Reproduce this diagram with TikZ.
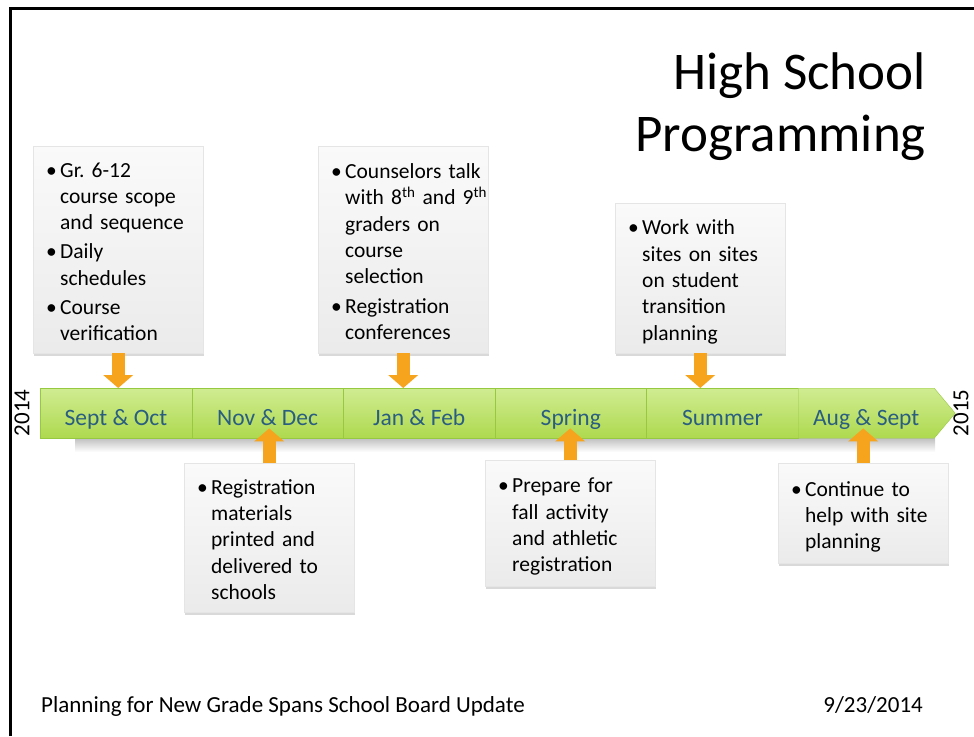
\documentclass[tikz,border=0pt]{standalone}
\usepackage{fontspec}
\setmainfont{Carlito}
\usetikzlibrary{positioning, arrows.meta, shapes.symbols, shadows}
\definecolor{barlight}{RGB}{208,236,146}
\definecolor{bargreen}{RGB}{174,217,78}
\definecolor{barline}{RGB}{150,200,64}
\definecolor{monthblue}{RGB}{42,94,128}
\definecolor{arroworange}{RGB}{246,163,30}
\frenchspacing
\newcommand{\bitem}[1]{\par\noindent\makebox[14pt][l]{\textbullet}\begin{tabular}[t]{@{}l@{}}#1\end{tabular}\par}
\begin{document}
\begin{tikzpicture}[x=1pt,y=-1pt,
    month/.style={anchor=north west,minimum width=151.6pt,minimum height=50pt,inner sep=0pt,
      text height=24pt,text depth=0pt,
      top color=barlight,bottom color=bargreen,draw=barline,text=monthblue,
      font=\fontsize{23.5}{28}\selectfont},
    tbox/.style={anchor=north west,draw=black!10,top color=black!2,bottom color=black!8,
      drop shadow={shadow xshift=1pt,shadow yshift=-2.5pt,opacity=.3},
      text width=144pt,inner xsep=13pt,inner ysep=0pt,align=left,
      font=\fontsize{21.5}{26.3}\selectfont},
    orarrow/.style={draw=arroworange,line width=13pt,
      -{Triangle[width=30pt,length=13pt,line width=0pt,fill=arroworange]}},
    year/.style={rotate=90,inner sep=0pt,font=\fontsize{23}{27}\selectfont}]
  \useasboundingbox (0,0) rectangle (974,736);
  \draw[line width=3pt] (10.5,736) -- (10.5,8) -- (974,8);
  % title and footer
  \node[anchor=north east,align=right,inner sep=0pt,font=\fontsize{53}{62}\selectfont] (title) at (926,52) {High School\\Programming};
  \node[anchor=base west,inner sep=0pt,font=\fontsize{23}{27}\selectfont] (foot) at (41,712) {Planning for New Grade Spans School Board Update};
  \node[anchor=base east,inner sep=0pt,font=\fontsize{23}{27}\selectfont] (date) at (923,712) {9/23/2014};
  % timeline
  \shade[top color=black!25,bottom color=white] (75,438) rectangle (935,452);
  \foreach \lab [count=\i] in {Sept \& Oct, Nov \& Dec, Jan \& Feb, Spring, Summer}
    \node[month] (s\i) at ({40+151.6*(\i-1)},388) {\lab};
  \node[month,signal,signal to=east,signal pointer angle=100,minimum width=157pt] (s6) at (798,388) {Aug \& Sept};
  \node[year] (y1) at (22,413) {2014};
  \node[year] (y2) at (961,413) {2015};
  % boxes above
  \node[tbox,minimum height=207pt] (b1) at (33,146) {\bitem{Gr. 6-12\\course scope\\and sequence}\vspace{2pt}\bitem{Daily\\schedules}\vspace{2pt}\bitem{Course\\verification}\vspace{6pt}};
  \node[tbox,minimum height=207pt] (b3) at (318,146) {\bitem{Counselors talk\\with 8\textsuperscript{th} and 9\textsuperscript{th}\\graders on\\course\\selection}\vspace{2pt}\bitem{Registration\\conferences}\vspace{6pt}};
  \node[tbox,minimum height=150pt] (b5) at (615,203) {\bitem{Work with\\sites on sites\\on student\\transition\\planning}};
  % boxes below
  \node[tbox,minimum height=149pt] (b2) at (184,463) {\bitem{Registration\\materials\\printed and\\delivered to\\schools}};
  \node[tbox,minimum height=126pt] (b4) at (485,460) {\bitem{Prepare for\\fall activity\\and athletic\\registration}};
  \node[tbox,minimum height=100pt] (b6) at (778,463) {\bitem{Continue to\\help with site\\planning}};
  % arrows
  \draw[orarrow] (b1.south) -- (b1.south |- s1.north);
  \draw[orarrow] (b3.south) -- (b3.south |- s3.north);
  \draw[orarrow] (b5.south) -- (b5.south |- s5.north);
  \draw[orarrow,shorten >=-10pt] (b2.north) -- (b2.north |- s2.south);
  \draw[orarrow,shorten >=-10pt] (b4.north) -- (b4.north |- s4.south);
  \draw[orarrow,shorten >=-10pt] (b6.north) -- (b6.north |- s6.south);
\end{tikzpicture}
\end{document}
